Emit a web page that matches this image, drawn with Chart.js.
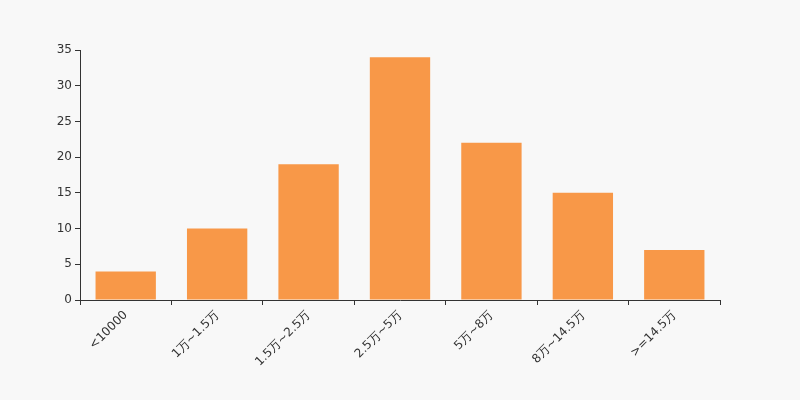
<!DOCTYPE html>
<html>
<head>
<meta charset="utf-8">
<script src="https://cdn.jsdelivr.net/npm/chart.js@4/dist/chart.umd.min.js"></script>
<style>
  html, body { margin: 0; padding: 0; background: #f8f8f8; }
  #wrap { width: 800px; height: 400px; }
</style>
</head>
<body>
<div id="wrap"><canvas id="bar-chart" width="800" height="400"></canvas></div>
<script>
var categories = ["<10000", "1万~1.5万", "1.5万~2.5万", "2.5万~5万", "5万~8万", "8万~14.5万", ">=14.5万"];
var counts = [4, 10, 19, 34, 22, 15, 7];
var yTicks = [0, 5, 10, 15, 20, 25, 30, 35];

const ctx = document.getElementById("bar-chart");
const barChart = new Chart(ctx, {
    type: "bar",
    data: {
        labels: categories,
        datasets: [
            {
                label: "人数",
                data: counts,
                backgroundColor: "#f89848",
                barPercentage: 0.66,
                categoryPercentage: 1
            }
        ]
    },
    options: {
        responsive: false,
        animation: false,
        layout: { padding: { top: 50, left: 0, right: 80, bottom: 0 } },
        plugins: {
            legend: { display: false },
            tooltip: { enabled: false }
        },
        scales: {
            x: {
                grid: { display: true, drawOnChartArea: false, offset: true, tickLength: 5, color: "#333" },
                border: { color: "#333" },
                ticks: {
                    minRotation: 45,
                    maxRotation: 45,
                    color: "#333",
                    font: { family: "DejaVu Sans", size: 12 }
                },
                afterFit: function (axis) { axis.height = 100; }
            },
            y: {
                min: 0,
                max: 35,
                afterBuildTicks: function (axis) {
                    axis.ticks = yTicks.map(function (v) { return { value: v }; });
                },
                grid: { display: true, drawOnChartArea: false, tickLength: 5, color: "#333" },
                border: { color: "#333" },
                ticks: {
                    color: "#333",
                    padding: 3,
                    font: { family: "DejaVu Sans", size: 12 }
                },
                afterFit: function (axis) { axis.width = 80; }
            }
        }
    }
});
</script>
</body>
</html>
